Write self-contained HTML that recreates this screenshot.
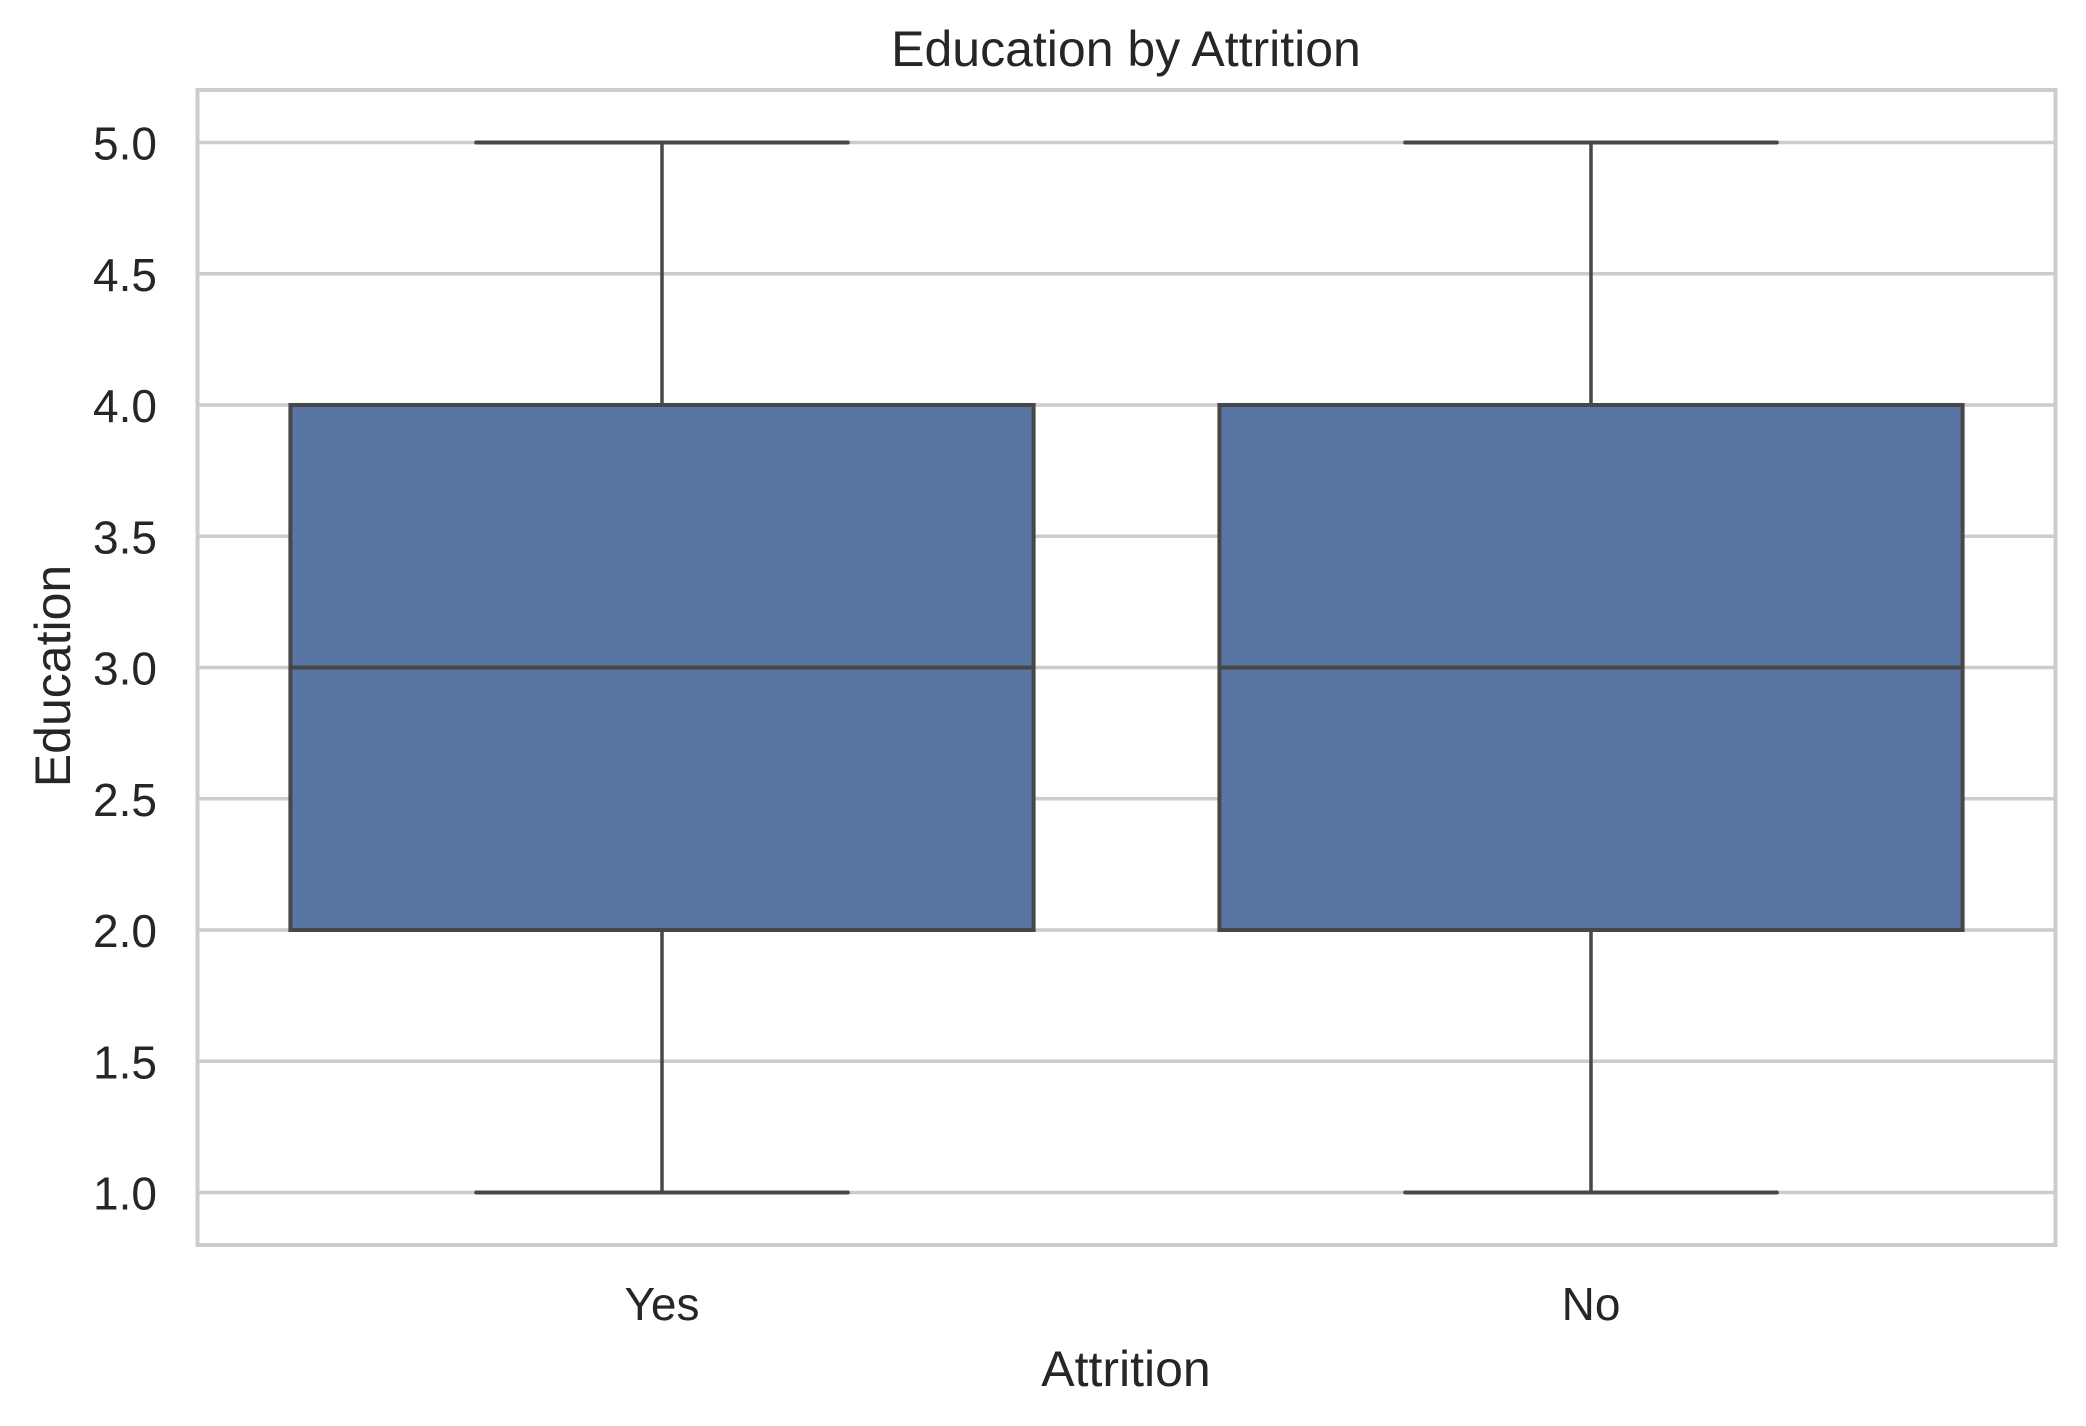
<!DOCTYPE html>
<html><head><meta charset="utf-8"><style>
html,body{margin:0;padding:0;background:#fff;}
svg text{font-family:"Liberation Sans",Arial,sans-serif;fill:#262626;}
</style></head><body>
<svg id="chart" width="2086" height="1421" xmlns="http://www.w3.org/2000/svg">
<rect width="2086" height="1421" fill="#fff"/>
<g id="grid"></g>
<g id="boxes"></g>
<rect x="197.5" y="90" width="1858" height="1155" fill="none" stroke="#cccccc" stroke-width="4"/>
<g id="yticks"></g>
<g id="xticks"></g>
<text x="1126" y="66" font-size="50" text-anchor="middle">Education by Attrition</text>
<text x="1126" y="1386" font-size="50" text-anchor="middle">Attrition</text>
<text x="0" y="0" font-size="50" text-anchor="middle" transform="translate(70,676) rotate(-90)">Education</text>
</svg>
<script>
const categories = ["Yes", "No"];
const whiskerLow = [1, 1];
const q1 = [2, 2];
const medians = [3, 3];
const q3 = [4, 4];
const whiskerHigh = [5, 5];
const yTicks = [1.0, 1.5, 2.0, 2.5, 3.0, 3.5, 4.0, 4.5, 5.0];

const NS = "http://www.w3.org/2000/svg";
const L = 197.5, R = 2055.5, T = 90, B = 1245;
const yMin = 0.8, yMax = 5.2;
function y(v){ return B - (v - yMin) / (yMax - yMin) * (B - T); }
const step = (R - L) / categories.length;
function x(i){ return L + step * (i + 0.5); }
function mk(tag, attrs, parent){ const e = document.createElementNS(NS, tag); for (const k in attrs) e.setAttribute(k, attrs[k]); parent.appendChild(e); return e; }

const grid = document.getElementById('grid');
const yt = document.getElementById('yticks');
yTicks.forEach(t => {
  const ln = mk('line', {x1: L, x2: R, y1: y(t), y2: y(t), stroke: '#cccccc', 'stroke-width': 3.5}, grid);
  
  
  const tx = mk('text', {x: 157, y: y(t) + 17, 'font-size': 46, 'text-anchor': 'end'}, yt);
  tx.textContent = t.toFixed(1);
  
  
});

const boxes = document.getElementById('boxes');
const xt = document.getElementById('xticks');
const stroke = '#474747';
categories.forEach((c, i) => {
  const cx = x(i), bw = step * 0.8, cw = step * 0.4;
  const g = mk('g', {}, boxes);
  
  
  const w1 = mk('line', {x1: cx, x2: cx, y1: y(whiskerLow[i]), y2: y(q1[i]), stroke: stroke, 'stroke-width': 3.5}, g);
  
  
  const w2 = mk('line', {x1: cx, x2: cx, y1: y(q3[i]), y2: y(whiskerHigh[i]), stroke: stroke, 'stroke-width': 3.5}, g);
  
  
  const c1 = mk('line', {x1: cx - cw/2, x2: cx + cw/2, y1: y(whiskerLow[i]), y2: y(whiskerLow[i]), stroke: stroke, 'stroke-width': 4, 'stroke-linecap': 'round'}, g);
  
  
  const c2 = mk('line', {x1: cx - cw/2, x2: cx + cw/2, y1: y(whiskerHigh[i]), y2: y(whiskerHigh[i]), stroke: stroke, 'stroke-width': 4, 'stroke-linecap': 'round'}, g);
  
  
  const r = mk('rect', {x: cx - bw/2, y: y(q3[i]), width: bw, height: y(q1[i]) - y(q3[i]), fill: '#5975a4', stroke: stroke, 'stroke-width': 4}, g);
  
  
  const m = mk('line', {x1: cx - bw/2, x2: cx + bw/2, y1: y(medians[i]), y2: y(medians[i]), stroke: stroke, 'stroke-width': 4}, g);
  
  
  const tx = mk('text', {x: cx, y: 1320, 'font-size': 46, 'text-anchor': 'middle'}, xt);
  tx.textContent = c;
  
  
});
</script>
</body></html>
